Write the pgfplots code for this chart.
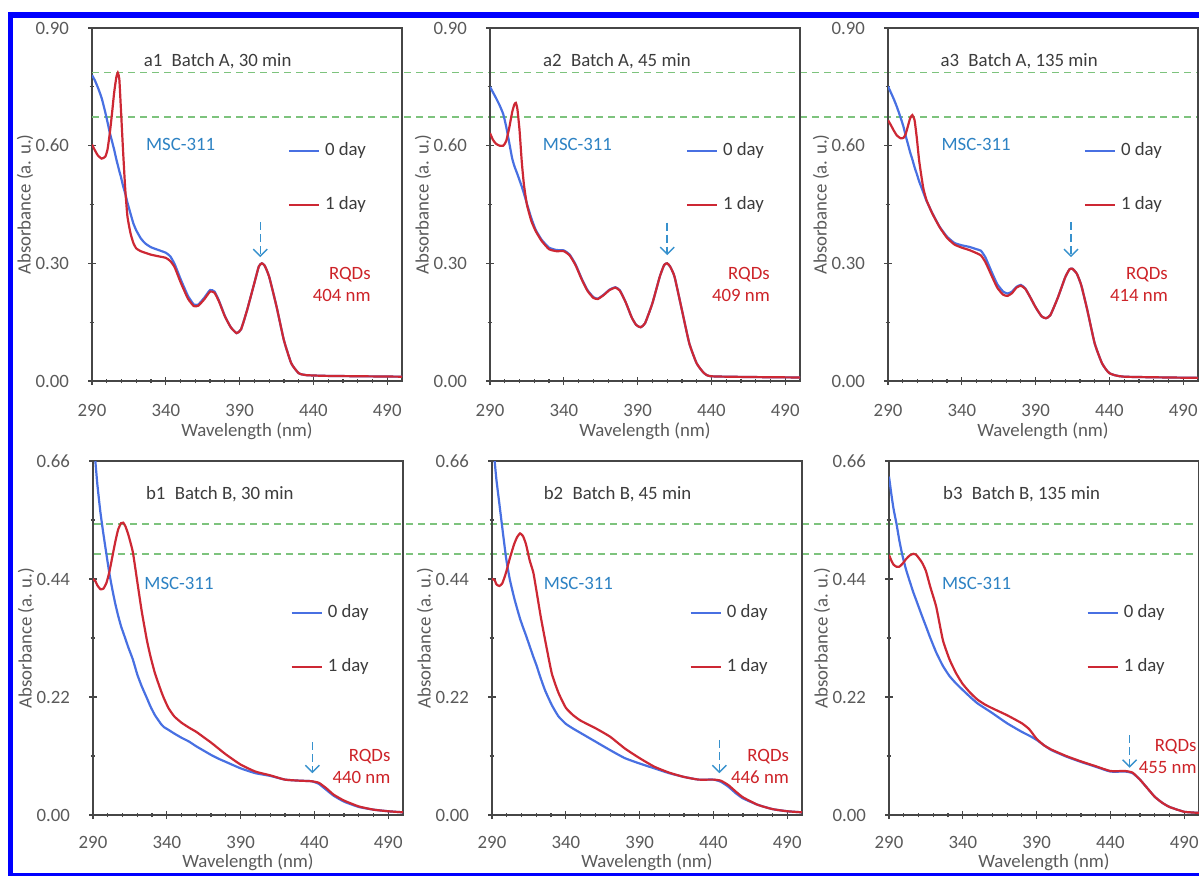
\documentclass[border=0pt]{standalone}
\usepackage{fontspec}
\setmainfont{Carlito}
\usepackage{pgfplots}
\pgfplotsset{compat=1.18}
\usepackage{pgfplotstable}
\usetikzlibrary{arrows.meta}

\definecolor{lineblue}{RGB}{72,112,226}
\definecolor{linered}{RGB}{205,40,52}
\definecolor{msc}{RGB}{45,130,195}
\definecolor{rqd}{RGB}{205,35,40}
\definecolor{arrowc}{RGB}{55,145,205}
\definecolor{gline}{RGB}{125,195,125}
\definecolor{axisgray}{RGB}{70,70,70}
\definecolor{labgray}{RGB}{90,90,90}
\definecolor{titlegray}{RGB}{60,60,60}
\definecolor{framecol}{RGB}{0,0,255}

\newcommand\fs{\fontsize{9.4}{11}\selectfont}

\pgfplotstableread{
x b r
290 0.780 0.603
292 0.766 0.588
294 0.748 0.575
296.5 0.722 0.567
299 0.685 0.572
300.5 0.660 0.590
302 0.634 0.630
303.5 0.612 0.680
305 0.590 0.735
306.5 0.565 0.775
307.5 0.550 0.786
308.5 0.535 0.770
309.5 0.522 0.700
311 0.498 0.590
312.5 0.478 0.490
314 0.455 0.420
316 0.428 0.378
318 0.402 0.352
320 0.384 0.338
323 0.364 0.331
326 0.351 0.327
330 0.341 0.322
335 0.334 0.318
340 0.327 0.314
343 0.318 0.306
346 0.298 0.290
350 0.260 0.252
355 0.217 0.210
359 0.195 0.191
362 0.195 0.192
366 0.212 0.208
370 0.232 0.228
373 0.228 0.225
376 0.205 0.203
380 0.166 0.165
384 0.137 0.137
388 0.122 0.122
391 0.132 0.132
395 0.180 0.180
400 0.250 0.250
403 0.292 0.292
405 0.300 0.300
407 0.294 0.294
410 0.266 0.266
415 0.190 0.190
420 0.104 0.104
425 0.045 0.045
430 0.020 0.020
435 0.015 0.015
450 0.013 0.013
500 0.011 0.011
}\dataAone

\pgfplotstableread{
x b r
290 0.750 0.632
292 0.736 0.615
294 0.722 0.605
296.5 0.703 0.600
299 0.680 0.600
301 0.648 0.612
303 0.608 0.645
305 0.568 0.685
306.5 0.548 0.705
307.5 0.538 0.709
308.5 0.528 0.695
310 0.512 0.640
311.5 0.496 0.560
313 0.478 0.500
315 0.452 0.450
318 0.415 0.408
321 0.385 0.382
325 0.360 0.357
330 0.340 0.336
335 0.334 0.331
340 0.333 0.331
344 0.322 0.320
348 0.297 0.295
352 0.262 0.260
356 0.232 0.230
360 0.214 0.212
363 0.210 0.209
367 0.220 0.219
371 0.233 0.232
375 0.239 0.238
378 0.231 0.230
382 0.200 0.200
386 0.162 0.162
389 0.143 0.143
392 0.137 0.137
395 0.147 0.147
400 0.198 0.198
405 0.266 0.266
408 0.296 0.296
410 0.300 0.300
412 0.292 0.292
415 0.266 0.266
420 0.181 0.181
425 0.096 0.096
430 0.045 0.045
435 0.020 0.020
440 0.012 0.012
470 0.010 0.010
500 0.009 0.009
}\dataAtwo

\pgfplotstableread{
x b r
290 0.751 0.665
292 0.735 0.652
294 0.718 0.638
296 0.699 0.626
298.5 0.672 0.619
300.5 0.648 0.620
302 0.625 0.630
303.5 0.604 0.650
305 0.583 0.670
306.5 0.565 0.678
308 0.545 0.665
309.5 0.528 0.620
311 0.510 0.565
312.5 0.495 0.525
314 0.480 0.490
316 0.460 0.462
318 0.444 0.444
320 0.428 0.427
325 0.393 0.392
330 0.368 0.365
335 0.352 0.348
340 0.346 0.340
345 0.342 0.334
350 0.336 0.326
353 0.332 0.320
356 0.315 0.303
360 0.280 0.270
364 0.247 0.238
368 0.228 0.220
371 0.223 0.217
374 0.228 0.224
377 0.240 0.238
380 0.245 0.243
383 0.236 0.235
386 0.216 0.216
390 0.188 0.188
394 0.165 0.165
397 0.160 0.160
400 0.168 0.168
405 0.212 0.212
410 0.264 0.264
413 0.285 0.285
415 0.286 0.286
418 0.273 0.273
421 0.243 0.243
425 0.181 0.181
430 0.096 0.096
435 0.045 0.045
440 0.020 0.020
450 0.011 0.011
500 0.008 0.008
}\dataAthree

\pgfplotstableread{
x b r
290 0.720 0.440
291.6 0.660 0.436
293 0.615 0.428
295 0.565 0.421
297 0.525 0.422
299 0.488 0.432
301 0.452 0.452
303 0.422 0.480
305 0.395 0.508
307 0.372 0.532
309 0.352 0.544
310.5 0.340 0.545
312 0.328 0.538
314 0.312 0.522
317 0.290 0.490
320 0.262 0.435
323 0.240 0.380
326.5 0.218 0.326
329 0.202 0.295
332 0.186 0.264
336 0.170 0.232
338 0.164 0.218
341 0.159 0.200
345 0.152 0.184
350 0.144 0.172
355 0.137 0.163
360 0.128 0.155
365 0.120 0.145
370 0.112 0.135
375 0.105 0.124
380 0.099 0.113
390 0.087 0.094
400 0.078 0.081
410 0.073 0.074
420 0.066 0.066
430 0.064 0.064
438 0.063 0.063
443 0.058 0.060
448 0.047 0.050
453 0.036 0.038
460 0.025 0.027
470 0.015 0.016
480 0.010 0.010
490 0.007 0.007
500 0.005 0.005
}\dataBone

\pgfplotstableread{
x b r
290 0.720 0.440
291.8 0.660 0.438
293 0.625 0.430
295 0.580 0.427
297 0.535 0.432
299.5 0.480 0.452
302 0.440 0.478
305 0.405 0.505
307 0.385 0.518
309 0.366 0.525
311 0.350 0.520
313 0.335 0.505
315.5 0.315 0.475
318 0.295 0.452
320 0.280 0.420
323 0.255 0.370
326 0.232 0.326
330.5 0.205 0.264
335 0.184 0.228
340 0.170 0.200
345 0.161 0.186
350 0.153 0.176
360 0.137 0.162
370 0.121 0.146
380 0.106 0.124
390 0.096 0.106
400 0.087 0.090
410 0.078 0.079
420 0.071 0.071
430 0.066 0.066
440 0.066 0.066
445 0.062 0.064
450 0.053 0.056
455 0.041 0.044
460 0.031 0.033
470 0.019 0.019
480 0.011 0.011
490 0.007 0.007
500 0.005 0.005
}\dataBtwo

\pgfplotstableread{
x b r
290 0.631 0.485
291.5 0.600 0.475
293 0.572 0.467
295 0.544 0.463
297 0.512 0.463
299 0.485 0.468
301.5 0.458 0.477
304 0.436 0.484
306.5 0.415 0.487
308.5 0.400 0.485
310.5 0.385 0.478
312.5 0.370 0.470
315 0.352 0.455
318 0.330 0.425
322 0.303 0.388
326.5 0.278 0.326
331 0.259 0.290
335.5 0.245 0.264
340 0.233 0.244
345 0.220 0.228
350 0.208 0.215
355 0.199 0.206
360 0.190 0.199
370 0.171 0.186
380 0.155 0.171
385 0.148 0.160
390 0.140 0.142
395 0.130 0.130
400 0.121 0.122
410 0.109 0.110
420 0.099 0.100
430 0.090 0.091
440 0.081 0.082
450 0.081 0.082
455 0.078 0.079
460 0.066 0.066
465 0.050 0.050
470 0.034 0.034
475 0.023 0.023
480 0.015 0.015
490 0.006 0.006
500 0.004 0.004
}\dataBthree

\tikzset{
  gd/.style={gline, line width=0.6pt, dash pattern=on 3.5pt off 2.5pt},
  arr/.style={arrowc, line width=0.7pt, dash pattern=on 4pt off 2pt, -{Straight Barb[length=3.5pt,width=7pt]}},
  ttl/.style={anchor=west, inner sep=0pt, font=\fs, text=titlegray},
  msct/.style={anchor=west, inner sep=0pt, font=\fs, text=msc},
  rqt/.style={anchor=east, inner sep=0pt, font=\fs, text=rqd, align=right},
}

\pgfplotsset{
  panel/.style={
    scale only axis, width=155pt,
    xmin=290, xmax=500, xtick={290,340,390,440,490}, minor x tick num=4,
    minor y tick num=1,
    xtick pos=bottom, ytick pos=left,
    tick align=center, major tick length=4pt, minor tick length=2.4pt,
    axis line style={axisgray, line width=0.8pt},
    every tick/.style={axisgray, line width=0.6pt},
    tick label style={font=\fs, text=labgray},
    xticklabel style={yshift=-6pt},
    yticklabel style={xshift=-6pt, /pgf/number format/fixed, /pgf/number format/fixed zerofill, /pgf/number format/precision=2},
    /pgf/number format/assume math mode=true,
    xlabel={Wavelength (nm)}, ylabel={Absorbance (a. u.)},
    label style={font=\fs, text=labgray},
    ylabel style={at={(axis description cs:-0.216,0.5)}, anchor=center},
    clip mode=individual,
    legend style={draw=none, fill=none, inner sep=0pt, row sep=18.5pt, font=\fs, text=titlegray,
      nodes={inner sep=0pt, text height=6.5pt, text depth=2pt},
      /tikz/every even column/.append style={column sep=2.2pt}},
    legend image code/.code={\draw[#1] (0pt,0pt) -- (15pt,0pt); \path (17.5pt,0pt);},
    legend cell align=left,
  },
  toprow/.style={panel, height=176.5pt, ymin=0, ymax=0.9, ytick={0,0.3,0.6,0.9},
    xlabel style={at={(axis description cs:0.5,-0.1416)}, anchor=center},
    legend style={at={(axis cs:422.4,0.518)}, anchor=west}},
  botrow/.style={panel, height=177pt, ymin=0, ymax=0.66, ytick={0,0.22,0.44,0.66},
    xlabel style={at={(axis description cs:0.5,-0.1328)}, anchor=center},
    xticklabel style={yshift=1pt},
    legend style={at={(axis cs:423.6,0.327)}, anchor=west}},
  cb/.style={lineblue, line width=1.1pt, smooth, tension=0.3},
  cr/.style={linered, line width=1.1pt, smooth, tension=0.3},
}

\begin{document}
\begin{tikzpicture}
\useasboundingbox (0,0) rectangle (599.5pt,437.5pt);
\draw[framecol, line width=2.7pt] (5.2pt,-0.3pt) rectangle (640pt,429.9pt);

% ---------- a1
\begin{axis}[toprow, at={(46pt,247pt)}, anchor=south west]
\draw[gd] (axis cs:290,0.786) -- (axis cs:1045,0.786);
\draw[gd] (axis cs:290,0.673) -- (axis cs:1045,0.673);
\addplot[cb] table[x=x,y=b] {\dataAone};
\addplot[cr] table[x=x,y=r] {\dataAone};
\legend{0 day,1 day}
\node[ttl] at (axis cs:324.8,0.8145) {a1\enspace Batch A, 30 min};
\node[msct] at (axis cs:326.4,0.602) {MSC-311};
\node[rqt] at (axis cs:479,0.2474) {RQDs\\404 nm};
\draw[arr] (axis cs:404,0.405) -- (axis cs:404,0.316);
\end{axis}

% ---------- a2
\begin{axis}[toprow, at={(245pt,247pt)}, anchor=south west]
\addplot[cb] table[x=x,y=b] {\dataAtwo};
\addplot[cr] table[x=x,y=r] {\dataAtwo};
\legend{0 day,1 day}
\node[ttl] at (axis cs:325.7,0.8145) {a2\enspace Batch A, 45 min};
\node[msct] at (axis cs:325.6,0.602) {MSC-311};
\node[rqt] at (axis cs:479.8,0.2474) {RQDs\\409 nm};
\draw[arr] (axis cs:410,0.404) -- (axis cs:410,0.321);
\end{axis}

% ---------- a3
\begin{axis}[toprow, at={(444pt,247pt)}, anchor=south west]
\addplot[cb] table[x=x,y=b] {\dataAthree};
\addplot[cr] table[x=x,y=r] {\dataAthree};
\legend{0 day,1 day}
\node[ttl] at (axis cs:325.3,0.8145) {a3\enspace Batch A, 135 min};
\node[msct] at (axis cs:326,0.602) {MSC-311};
\node[rqt] at (axis cs:479.8,0.2474) {RQDs\\414 nm};
\draw[arr] (axis cs:414,0.405) -- (axis cs:414,0.316);
\end{axis}

% ---------- b1
\begin{axis}[botrow, at={(46.5pt,30pt)}, anchor=south west]
\draw[gd] (axis cs:291,0.5425) -- (axis cs:1045,0.5425);
\draw[gd] (axis cs:291,0.4866) -- (axis cs:1045,0.4866);
\addplot[cb] table[x=x,y=b] {\dataBone};
\addplot[cr] table[x=x,y=r] {\dataBone};
\legend{0 day,1 day}
\node[ttl] at (axis cs:325.7,0.598) {b1\enspace Batch B, 30 min};
\node[msct] at (axis cs:324.6,0.432) {MSC-311};
\node[rqt] at (axis cs:491.7,0.0913) {RQDs\\440 nm};
\draw[arr] (axis cs:438.6,0.136) -- (axis cs:438.6,0.078);
\end{axis}

% ---------- b2
\begin{axis}[botrow, at={(246pt,30pt)}, anchor=south west]
\addplot[cb] table[x=x,y=b] {\dataBtwo};
\addplot[cr] table[x=x,y=r] {\dataBtwo};
\legend{0 day,1 day}
\node[ttl] at (axis cs:324.8,0.598) {b2\enspace Batch B, 45 min};
\node[msct] at (axis cs:324.8,0.432) {MSC-311};
\node[rqt] at (axis cs:491.4,0.0913) {RQDs\\446 nm};
\draw[arr] (axis cs:444,0.140) -- (axis cs:444,0.078);
\end{axis}

% ---------- b3
\begin{axis}[botrow, at={(444.5pt,30pt)}, anchor=south west]
\addplot[cb] table[x=x,y=b] {\dataBthree};
\addplot[cr] table[x=x,y=r] {\dataBthree};
\legend{0 day,1 day}
\node[ttl] at (axis cs:326.4,0.598) {b3\enspace Batch B, 135 min};
\node[msct] at (axis cs:325.7,0.432) {MSC-311};
\node[rqt] at (axis cs:498.6,0.110) {RQDs\\455 nm};
\draw[arr] (axis cs:453,0.149) -- (axis cs:453,0.088);
\end{axis}
\end{tikzpicture}
\end{document}
